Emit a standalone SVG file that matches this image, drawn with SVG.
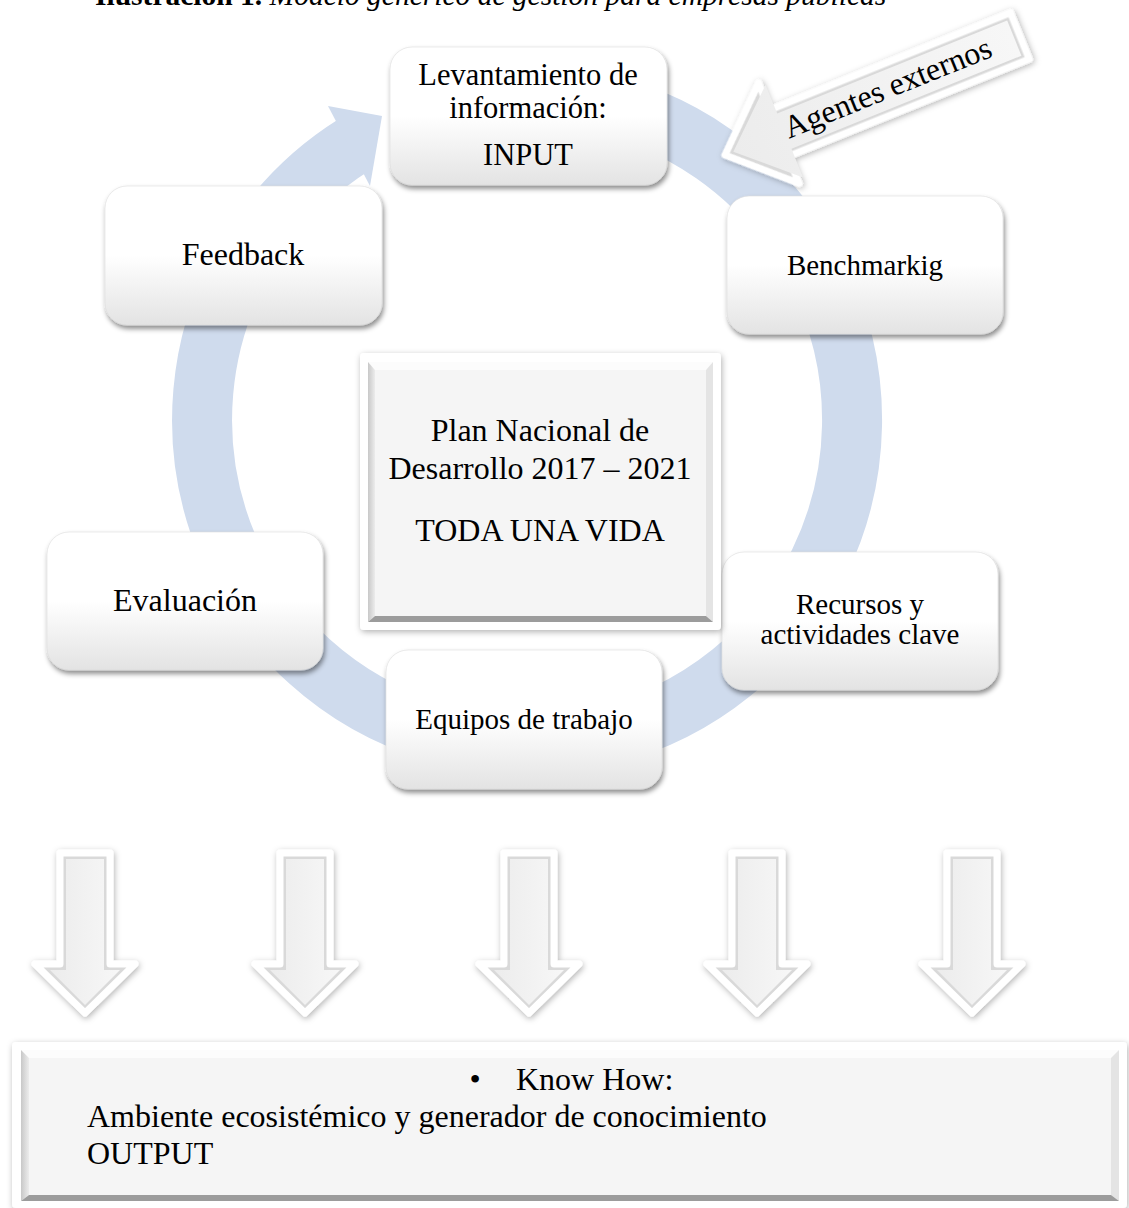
<svg xmlns="http://www.w3.org/2000/svg" width="1129" height="1208" viewBox="0 0 1129 1208">
  <defs>
    <style>
      text { font-family: "Liberation Serif", "Times New Roman", serif; fill: #000; }
      .lbl { font-size: 32px; text-anchor: middle; }
      .lbl31 { font-size: 30.5px; text-anchor: middle; }
      .lbl29 { font-size: 29px; text-anchor: middle; }
      .node rect { fill: url(#nodeGrad); stroke: #dcdcdc; stroke-width: 0.6; filter: url(#shadow); }
      .ring { fill: none; stroke: #cfdbed; stroke-width: 60; }
      .ringhead { fill: #cfdbed; }
      .dOuter { fill: #d9d9d9; stroke: #ffffff; stroke-width: 7; stroke-linejoin: round; filter: url(#softShadow); }
      .dInner { fill: url(#arrowFace); }
      .bTop { fill: #fcfcfc; }
      .bLeft { fill: url(#bevelLeft); }
      .bRight { fill: #e4e4e4; }
      .bBottom { fill: #9c9c9c; }
      .face { fill: #f5f5f5; }
      .frame { fill: #ffffff; filter: url(#softShadow); }
    </style>
    <linearGradient id="nodeGrad" x1="0" y1="0" x2="0" y2="1">
      <stop offset="0" stop-color="#ffffff"/>
      <stop offset="0.5" stop-color="#ffffff"/>
      <stop offset="1" stop-color="#e3e3e3"/>
    </linearGradient>
    <linearGradient id="bevelLeft" x1="0" y1="0" x2="1" y2="0">
      <stop offset="0" stop-color="#c8c8c8"/>
      <stop offset="1" stop-color="#ececec"/>
    </linearGradient>
    <linearGradient id="arrowFace" x1="0" y1="0" x2="1" y2="0">
      <stop offset="0" stop-color="#ececec"/>
      <stop offset="1" stop-color="#f7f7f7"/>
    </linearGradient>
    <filter id="shadow" x="-10%" y="-10%" width="125%" height="130%">
      <feDropShadow dx="1.5" dy="3.5" stdDeviation="2.5" flood-color="#000" flood-opacity="0.45"/>
    </filter>
    <filter id="softShadow" x="-15%" y="-15%" width="135%" height="135%">
      <feDropShadow dx="1" dy="2" stdDeviation="3" flood-color="#000" flood-opacity="0.3"/>
    </filter>
  </defs>

  <rect x="0" y="0" width="1129" height="1208" fill="#ffffff"/>

  <text id="caption" x="95" y="5" font-size="29.5"><tspan font-weight="bold">Ilustración 1.</tspan><tspan font-style="italic"> Modelo genérico de gestión para empresas públicas</tspan></text>

  <g id="connectors">
    <path class="ring" d="M 583.4 99.9 A 325 325 0 1 1 354.8 144.4"/>
    <polygon class="ringhead" points="328,106 382,116 370,186"/>
  </g>

  <g id="node-input" class="node">
    <rect x="390" y="47" width="277" height="138" rx="22"/>
    <text class="lbl31" x="528" y="85">Levantamiento de</text>
    <text class="lbl31" x="528" y="118">información:</text>
    <text class="lbl31" x="528" y="165">INPUT</text>
  </g>

  <g id="node-feedback" class="node">
    <rect x="105" y="186" width="277" height="139" rx="22"/>
    <text class="lbl" x="243" y="265">Feedback</text>
  </g>

  <g id="node-benchmarkig" class="node">
    <rect x="727" y="196" width="276" height="138" rx="22"/>
    <text class="lbl29" x="865" y="275">Benchmarkig</text>
  </g>

  <g id="node-evaluacion" class="node">
    <rect x="47" y="532" width="276" height="138" rx="22"/>
    <text class="lbl" x="185" y="611">Evaluación</text>
  </g>

  <g id="node-equipos" class="node">
    <rect x="386" y="650" width="276" height="139" rx="22"/>
    <text class="lbl29" x="524" y="729">Equipos de trabajo</text>
  </g>

  <g id="node-recursos" class="node">
    <rect x="722" y="552" width="276" height="138" rx="22"/>
    <text class="lbl29" x="860" y="614">Recursos y</text>
    <text class="lbl29" x="860" y="644">actividades clave</text>
  </g>

  <g id="node-plan">
    <rect class="frame" x="360" y="353" width="361" height="277" rx="4"/>
    <polygon class="bTop" points="368,362 713,362 706,370 375,370"/>
    <polygon class="bLeft" points="368,362 375,370 375,616 368,622"/>
    <polygon class="bRight" points="713,362 713,622 706,616 706,370"/>
    <polygon class="bBottom" points="368,622 375,616 706,616 713,622"/>
    <rect class="face" x="375" y="370" width="331" height="246"/>
    <text class="lbl" x="540" y="441">Plan Nacional de</text>
    <text class="lbl" x="540" y="479">Desarrollo 2017 – 2021</text>
    <text class="lbl" x="540" y="541">TODA UNA VIDA</text>
  </g>

  <g id="node-agentes" transform="translate(725,155) rotate(-22)">
    <polygon class="dOuter" points="0,0 58,-54 58,-25 318,-25 318,25 58,25 58,54"/>
    <polygon class="dInner" points="9,0 64,-50 64,-19 312,-19 312,19 64,19 64,50"/>
    <text x="176" y="9" font-size="32" text-anchor="middle">Agentes externos</text>
  </g>

  <g id="down-arrows">
    <g id="down-1" transform="translate(85,0)">
      <polygon class="dOuter" points="-25,853 25,853 25,964 50,964 0,1013 -50,964 -25,964"/>
      <polygon class="dInner" points="-19,859 19,859 19,970 35,970 0,1005 -35,970 -19,970"/>
    </g>
    <g id="down-2" transform="translate(305,0)">
      <polygon class="dOuter" points="-25,853 25,853 25,964 50,964 0,1013 -50,964 -25,964"/>
      <polygon class="dInner" points="-19,859 19,859 19,970 35,970 0,1005 -35,970 -19,970"/>
    </g>
    <g id="down-3" transform="translate(529,0)">
      <polygon class="dOuter" points="-25,853 25,853 25,964 50,964 0,1013 -50,964 -25,964"/>
      <polygon class="dInner" points="-19,859 19,859 19,970 35,970 0,1005 -35,970 -19,970"/>
    </g>
    <g id="down-4" transform="translate(757,0)">
      <polygon class="dOuter" points="-25,853 25,853 25,964 50,964 0,1013 -50,964 -25,964"/>
      <polygon class="dInner" points="-19,859 19,859 19,970 35,970 0,1005 -35,970 -19,970"/>
    </g>
    <g id="down-5" transform="translate(972,0)">
      <polygon class="dOuter" points="-25,853 25,853 25,964 50,964 0,1013 -50,964 -25,964"/>
      <polygon class="dInner" points="-19,859 19,859 19,970 35,970 0,1005 -35,970 -19,970"/>
    </g>
  </g>

  <g id="node-output">
    <rect class="frame" x="12" y="1042" width="1115" height="166" rx="4"/>
    <polygon class="bTop" points="21,1050 1119,1050 1111,1058 29,1058"/>
    <polygon class="bLeft" points="21,1050 29,1058 29,1195 21,1201"/>
    <polygon class="bRight" points="1119,1050 1119,1201 1111,1195 1111,1058"/>
    <polygon class="bBottom" points="21,1201 29,1195 1111,1195 1119,1201"/>
    <rect class="face" x="29" y="1058" width="1082" height="137"/>
    <text x="475" y="1090" font-size="32" text-anchor="middle">•</text>
    <text x="516" y="1090" font-size="32">Know How:</text>
    <text x="87" y="1127" font-size="32">Ambiente ecosistémico y generador de conocimiento</text>
    <text x="87" y="1164" font-size="32">OUTPUT</text>
  </g>
</svg>
